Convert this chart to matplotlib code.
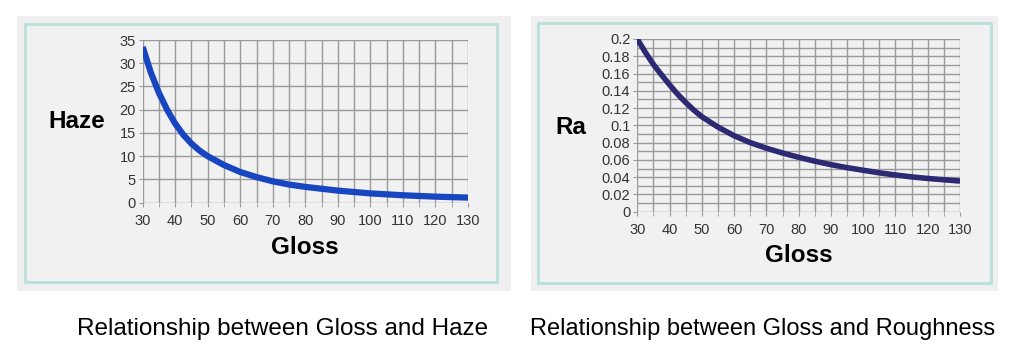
import numpy as np
import matplotlib.pyplot as plt
from matplotlib.patches import Rectangle

plt.rcParams['font.family'] = ['Liberation Sans', 'DejaVu Sans']

W, H = 1010, 362

gloss = [30, 32.5, 35, 37.5, 40, 42.5, 45, 47.5, 50, 55, 60, 65, 70, 75, 80, 85, 90, 95, 100, 105, 110, 115, 120, 125, 130]
haze = [33.5, 28.0, 23.6, 20.0, 17.0, 14.6, 12.7, 11.2, 10.0, 8.1, 6.6, 5.5, 4.6, 3.9, 3.4, 3.0, 2.6, 2.3, 2.0, 1.8, 1.6, 1.45, 1.3, 1.2, 1.1]
ra = [0.200, 0.1845, 0.1705, 0.1585, 0.147, 0.136, 0.1265, 0.1177, 0.110, 0.098, 0.088, 0.080, 0.0735, 0.068, 0.063, 0.0585, 0.0545, 0.051, 0.048, 0.045, 0.0425, 0.0403, 0.0385, 0.037, 0.0355]

x_ticks = list(range(30, 131, 10))
haze_ticks = list(range(0, 36, 5))
ra_ticks = [0, 0.02, 0.04, 0.06, 0.08, 0.1, 0.12, 0.14, 0.16, 0.18, 0.2]
ra_labels = ["0", "0.02", "0.04", "0.06", "0.08", "0.1", "0.12", "0.14", "0.16", "0.18", "0.2"]


def px(x0, y0, x1, y1):
    # pixel box (top-left origin) -> figure fraction rect
    return [x0 / W, 1 - y1 / H, (x1 - x0) / W, (y1 - y0) / H]


fig = plt.figure(figsize=(W / 100, H / 100), dpi=100)
fig.patch.set_facecolor('white')

# panel backgrounds with teal frame
for (a, b, c, d), (e, f, g, h) in [((17, 16, 511, 291), (25, 24, 497, 282)),
                                   ((531, 16, 998, 291), (538, 23, 991, 283))]:
    fig.patches.append(Rectangle((a / W, 1 - d / H), (c - a) / W, (d - b) / H,
                                 transform=fig.transFigure, facecolor='#efefef',
                                 edgecolor='none', zorder=-2))
    fig.patches.append(Rectangle((e / W, 1 - h / H), (g - e) / W, (h - f) / H,
                                 transform=fig.transFigure, facecolor='#f1f1f1',
                                 edgecolor='#b9e0db', linewidth=2.0, zorder=-1))


def style(ax):
    ax.set_facecolor('none')
    for s in ax.spines.values():
        s.set_visible(False)
    ax.set_xlim(30, 130)
    ax.set_xticks(x_ticks)
    ax.set_xticks(range(35, 130, 10), minor=True)
    ax.tick_params(axis='both', which='both', length=3, color='#999999',
                   labelsize=10.5, labelcolor='#333333', pad=2)
    ax.tick_params(axis='x', which='major', pad=5)
    ax.grid(True, which='both', color='#9a9a9a', linewidth=1.0)
    ax.set_axisbelow(True)


# left chart: Gloss vs Haze
ax1 = fig.add_axes(px(142.7, 40, 468, 202.7))
style(ax1)
ax1.set_ylim(0, 35)
ax1.set_yticks(haze_ticks)
ax1.plot(gloss, haze, color='#1846c0', linewidth=4.5, solid_capstyle='butt',
         solid_joinstyle='round', zorder=3)
fig.text(77 / W, 1 - 122 / H, 'Haze', fontsize=17.5, fontweight='bold', ha='center', va='center')
fig.text(305 / W, 1 - 248 / H, 'Gloss', fontsize=17.5, fontweight='bold', ha='center', va='center')

# right chart: Gloss vs Ra
ax2 = fig.add_axes(px(637.3, 39, 960, 211.7))
style(ax2)
ax2.set_ylim(0, 0.2)
ax2.set_yticks(ra_ticks)
ax2.set_yticklabels(ra_labels)
ax2.set_yticks(np.arange(0.01, 0.2, 0.02), minor=True)
ax2.tick_params(axis='y', which='minor', length=0)
ax2.plot(gloss, ra, color='#2b2a72', linewidth=4, solid_capstyle='butt',
         solid_joinstyle='round', zorder=3)
fig.text(571 / W, 1 - 128 / H, 'Ra', fontsize=17.5, fontweight='bold', ha='center', va='center')
fig.text(799 / W, 1 - 255 / H, 'Gloss', fontsize=17.5, fontweight='bold', ha='center', va='center')

fig.text(283 / W, 1 - 329 / H, 'Relationship between Gloss and Haze', fontsize=17.5,
         ha='center', va='center')
fig.text(763 / W, 1 - 329 / H, 'Relationship between Gloss and Roughness', fontsize=17.0,
         ha='center', va='center')

fig.savefig('out.png', dpi=100)
